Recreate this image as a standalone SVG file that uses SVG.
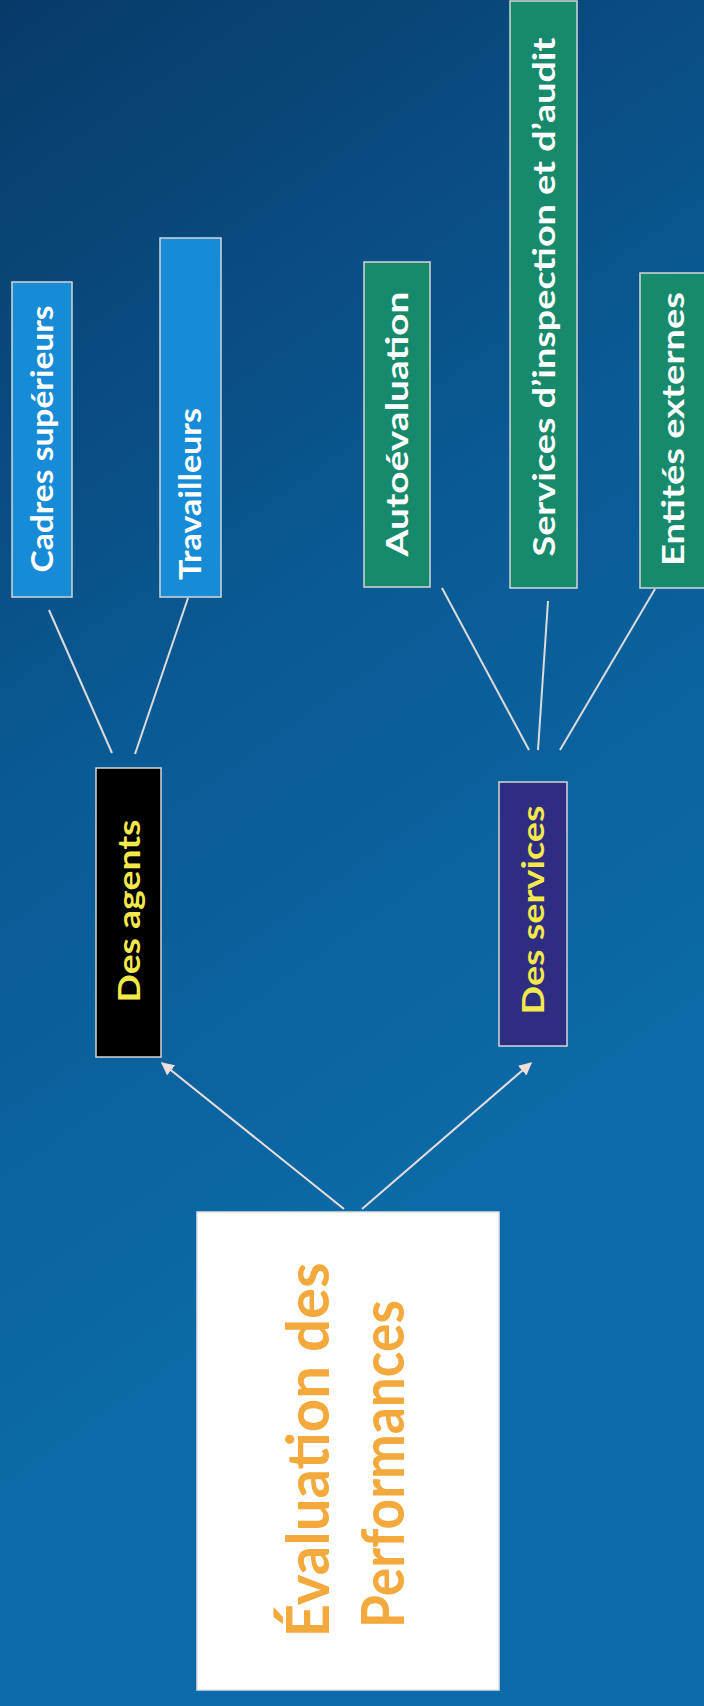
<svg xmlns="http://www.w3.org/2000/svg" width="704" height="1706" viewBox="0 0 704 1706">
  <defs>
    <linearGradient id="bg" gradientUnits="userSpaceOnUse" x1="0" y1="0" x2="704" y2="1000">
      <stop offset="0" stop-color="#083a68"/>
      <stop offset="0.55" stop-color="#0a5a94"/>
      <stop offset="1" stop-color="#0b6aa7"/>
    </linearGradient>
    <marker id="arrow" viewBox="0 0 10 10" refX="9" refY="5" markerWidth="6.5" markerHeight="6.5" markerUnits="strokeWidth" orient="auto">
      <path d="M0,0 L10,5 L0,10 z" fill="#f2dfda"/>
    </marker>
    <style>
      .box { stroke: #d6d6d6; stroke-width: 1.5; }
      .blue { fill: #178bd5; }
      .green { fill: #178a6b; }
      .lbl { font-family: Lato, "Open Sans", sans-serif; font-weight: bold; font-size: 31px; fill: #ffffff; }
      .ylbl { font-family: Lato, "Open Sans", sans-serif; font-weight: bold; font-size: 31px; fill: #f4e94a; }
      .main { font-family: Lato, "Open Sans", sans-serif; font-weight: bold; font-size: 60px; fill: #f3a93c; }
      .link { stroke: #dcdcdc; stroke-width: 2; fill: none; }
      .arr { stroke: #e8dedc; stroke-width: 2; fill: none; }
    </style>
  </defs>
  <rect x="0" y="0" width="704" height="1706" fill="url(#bg)"/>

  <g id="connectors">
    <line class="link" x1="49" y1="610" x2="112" y2="753"/>
    <line class="link" x1="188" y1="598" x2="135" y2="754"/>
    <line class="link" x1="442" y1="588" x2="529" y2="750"/>
    <line class="link" x1="548" y1="601" x2="538" y2="750"/>
    <line class="link" x1="655" y1="589" x2="560" y2="750"/>
    <line class="arr" x1="344" y1="1209" x2="162" y2="1063" marker-end="url(#arrow)"/>
    <line class="arr" x1="362" y1="1209" x2="531" y2="1063" marker-end="url(#arrow)"/>
  </g>

  <g id="cadres">
    <rect class="box blue" x="12" y="282" width="60" height="315"/>
    <text class="lbl" transform="translate(53,439) rotate(-90)" text-anchor="middle" textLength="267" lengthAdjust="spacingAndGlyphs">Cadres supérieurs</text>
  </g>
  <g id="travailleurs">
    <rect class="box blue" x="160" y="238" width="61" height="359"/>
    <text class="lbl" transform="translate(201,494) rotate(-90)" text-anchor="middle" textLength="172" lengthAdjust="spacingAndGlyphs">Travailleurs</text>
  </g>
  <g id="autoevaluation">
    <rect class="box green" x="364" y="262" width="66" height="325"/>
    <text class="lbl" transform="translate(408,424) rotate(-90)" text-anchor="middle" textLength="265" lengthAdjust="spacingAndGlyphs">Autoévaluation</text>
  </g>
  <g id="services-inspection">
    <rect class="box green" x="510" y="1" width="67" height="587"/>
    <text class="lbl" transform="translate(555,297) rotate(-90)" text-anchor="middle" textLength="519" lengthAdjust="spacingAndGlyphs">Services d’inspection et d’audit</text>
  </g>
  <g id="entites">
    <rect class="box green" x="640" y="273" width="66" height="315"/>
    <text class="lbl" transform="translate(684,429) rotate(-90)" text-anchor="middle" textLength="274" lengthAdjust="spacingAndGlyphs">Entités externes</text>
  </g>

  <g id="des-agents">
    <rect class="box" fill="#000000" x="96" y="768" width="65" height="289"/>
    <text class="ylbl" transform="translate(140,911) rotate(-90)" text-anchor="middle" textLength="183" lengthAdjust="spacingAndGlyphs">Des agents</text>
  </g>
  <g id="des-services">
    <rect class="box" fill="#2f2d82" x="499" y="782" width="68" height="264"/>
    <text class="ylbl" transform="translate(544,910) rotate(-90)" text-anchor="middle" textLength="209" lengthAdjust="spacingAndGlyphs">Des services</text>
  </g>

  <g id="evaluation">
    <rect x="197" y="1212" width="302" height="478" fill="#ffffff" stroke="#e0e0e0" stroke-width="1.5"/>
    <text class="main" transform="translate(329,1450) rotate(-90)" text-anchor="middle" textLength="375" lengthAdjust="spacingAndGlyphs">Évaluation des</text>
    <text class="main" transform="translate(404,1464) rotate(-90)" text-anchor="middle" textLength="328" lengthAdjust="spacingAndGlyphs">Performances</text>
  </g>
</svg>
